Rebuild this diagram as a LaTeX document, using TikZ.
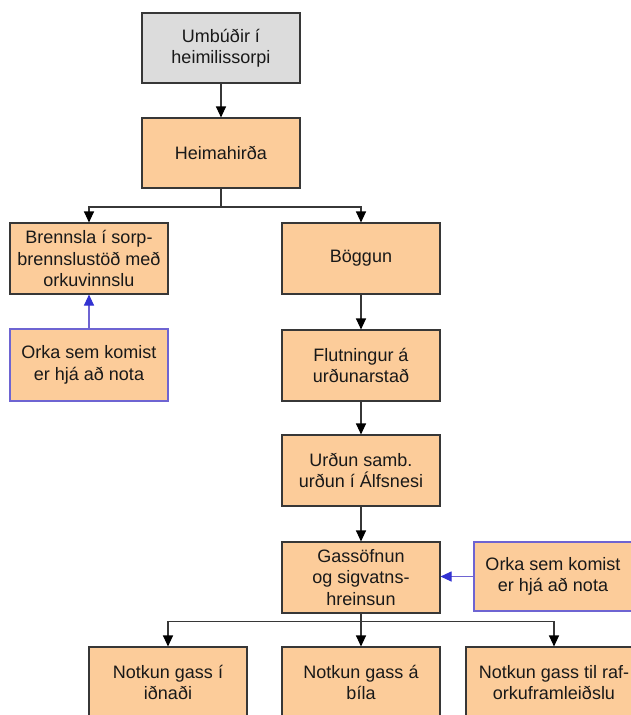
\documentclass[tikz,border=0pt]{standalone}
\usepackage{fontspec}
\setmainfont{Liberation Sans}
\usetikzlibrary{arrows.meta}
\definecolor{peach}{RGB}{252,204,154}
\definecolor{boxgray}{RGB}{220,220,220}
\definecolor{edge}{RGB}{55,55,55}
\definecolor{blueedge}{RGB}{110,100,210}
\definecolor{bluearrow}{RGB}{50,50,210}
\definecolor{txt}{RGB}{25,25,25}
\tikzset{
  box/.style={draw=edge, line width=1.1pt, fill=peach, minimum width=158pt, minimum height=71pt,
    align=center, inner sep=0pt, text=txt, font=\fontsize{18}{21.5}\selectfont},
  graybox/.style={box, fill=boxgray},
  bluebox/.style={box, draw=blueedge},
  conn/.style={draw=edge, line width=1.1pt},
  arr/.style={conn, -{Triangle[length=11pt,width=10pt,color=black]}},
  barr/.style={draw=blueedge, line width=1.1pt, -{Triangle[length=11pt,width=10pt,color=bluearrow]}}
}
\begin{document}
\begin{tikzpicture}[x=1pt,y=-1pt]
\clip (0,0) rectangle (631,715);
\fill[white] (0,0) rectangle (631,715);
\node[graybox, minimum height=70pt] (umb) at (221,48) {Umbúðir í\\heimilissorpi};
\node[box, minimum height=70pt] (heim) at (221,153) {Heimahirða};
\node[box] (brenn) at (89,258.5) {Brennsla í sorp-\\brennslustöð með\\orkuvinnslu};
\node[box] (bogg) at (361,258.5) {Böggun};
\node[bluebox, minimum height=72pt] (orkaL) at (89,365) {Orka sem komist\\er hjá að nota};
\node[box] (flut) at (361,365.5) {Flutningur á\\urðunarstað};
\node[box] (urd) at (361,470.5) {Urðun samb.\\urðun í Álfsnesi};
\node[box] (gas) at (361,577.5) {Gassöfnun\\og sigvatns-\\hreinsun};
\node[bluebox, minimum height=69pt] (orkaR) at (553,576.5) {Orka sem komist\\er hjá að nota};
\node[box] (n1) at (168,682.5) {Notkun gass í\\iðnaði};
\node[box] (n2) at (361,682.5) {Notkun gass á\\bíla};
\node[box, minimum width=176pt] (n3) at (554,682.5) {Notkun gass til raf-\\orkuframleiðslu};
\coordinate (j1) at (221,207);
\coordinate (j2) at (361,621.5);
\draw[arr] (umb) -- (heim);
\draw[conn] (heim) -- (j1);
\draw[arr] (j1) -| (brenn);
\draw[arr] (j1) -| (bogg);
\draw[arr] (bogg) -- (flut);
\draw[arr] (flut) -- (urd);
\draw[arr] (urd) -- (gas);
\draw[barr] (orkaL) -- (brenn);
\draw[barr] (orkaR.west) -- (orkaR.west -| gas.east);
\draw[conn] (gas) -- (j2);
\draw[arr] (j2) -| (n1);
\draw[arr] (j2) -- (n2);
\draw[arr] (j2) -| (n3);
\end{tikzpicture}
\end{document}
